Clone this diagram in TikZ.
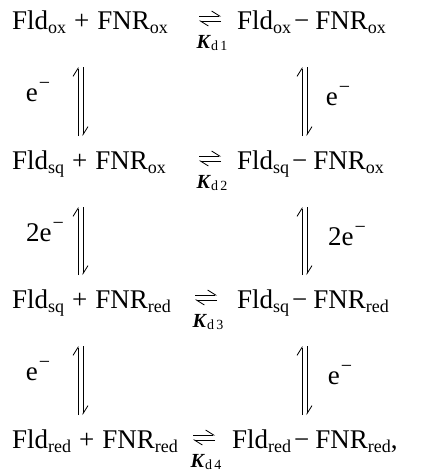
\documentclass[tikz,border=0pt]{standalone}
\usepackage{fontspec}
\setmainfont{Liberation Serif}
\usetikzlibrary{arrows.meta}
\newcommand{\sbs}[1]{\raisebox{-0.35ex}{\fontsize{18}{18}\selectfont #1}}
\newcommand{\ksb}[1]{\raisebox{-0.3ex}{\fontsize{14}{14}\selectfont #1}}
\newcommand{\elec}{e\hspace{1pt}\raisebox{0.9ex}{\fontsize{20}{20}\selectfont \char"2212}}
\newcommand{\mns}{\hspace{3pt}\char"2212\hspace{6pt}}
\newcommand{\pls}{\hspace{8pt}+\hspace{8pt}}
\tikzset{
  expr/.style={anchor=base west, inner sep=0pt, font=\fontsize{27}{27}\selectfont},
  klab/.style={anchor=base, inner sep=0pt, font=\fontsize{20}{20}\selectfont},
  elab/.style={anchor=base, inner sep=0pt, font=\fontsize{27}{27}\selectfont},
  harp/.style={line width=0.8pt, -{Straight Barb[left, length=8pt, width=10pt]}},
}
\begin{document}
\begin{tikzpicture}[x=1pt, y=-1pt]
\useasboundingbox (0,0) rectangle (421,472);
\def\bA{29}\def\bB{169}\def\bC{308}\def\bD{448}
\node[expr] (l1) at (12,\bA) {Fld\sbs{ox}\pls FNR\sbs{ox}};
\node[expr] (r1) at (237,\bA) {Fld\sbs{ox}\mns FNR\sbs{ox}};
\node[expr] (l2) at (12,\bB) {Fld\sbs{sq}\pls FNR\sbs{ox}};
\node[expr] (r2) at (237,\bB) {Fld\sbs{sq}\mns FNR\sbs{ox}};
\node[expr] (l3) at (12,\bC) {Fld\sbs{sq}\pls FNR\sbs{red}};
\node[expr] (r3) at (237,\bC) {Fld\sbs{sq}\mns FNR\sbs{red}};
\node[expr] (l4) at (12,\bD) {Fld\sbs{red}\pls FNR\sbs{red}};
\node[expr] (r4) at (232,\bD) {Fld\sbs{red}\mns FNR\sbs{red},};
% horizontal harpoons
\foreach \n/\b/\xa/\xb in {1/\bA/199/221, 2/\bB/199/221, 3/\bC/195/217, 4/\bD/193/215}{
  \coordinate (h\n a) at (\xa,\b-13);
  \coordinate (h\n b) at (\xb,\b-13);
  \coordinate (h\n c) at (\xb,\b-8);
  \coordinate (h\n d) at (\xa,\b-8);
  \draw[harp] (h\n a) -- (h\n b);
  \draw[harp] (h\n c) -- (h\n d);
}
\node[klab] (k1) at (212,\bA+19) {\textbf{\textit{K}}\ksb{d\,1}};
\node[klab] (k2) at (212,\bB+19) {\textbf{\textit{K}}\ksb{d\,2}};
\node[klab] (k3) at (208,\bC+19) {\textbf{\textit{K}}\ksb{d\,3}};
\node[klab] (k4) at (206,\bD+19) {\textbf{\textit{K}}\ksb{d\,4}};
% vertical harpoons
\foreach \i/\t/\bb in {1/\bA/\bB, 2/\bB/\bC, 3/\bC/\bD}{
  \coordinate (lu\i) at (78,\bb-33);
  \coordinate (lt\i) at (78,\t+38);
  \coordinate (ld\i) at (83,\t+38);
  \coordinate (lb\i) at (83,\bb-33);
  \draw[harp] (lu\i) -- (lt\i);
  \draw[harp] (ld\i) -- (lb\i);
  \coordinate (ru\i) at (302,\bb-33);
  \coordinate (rt\i) at (302,\t+38);
  \coordinate (rd\i) at (307,\t+38);
  \coordinate (rb\i) at (307,\bb-33);
  \draw[harp] (ru\i) -- (rt\i);
  \draw[harp] (rd\i) -- (rb\i);
}
\node[elab] (e1l) at (38,\bA+72) {\elec};
\node[elab] (e1r) at (338,\bA+76) {\elec};
\node[elab] (e2l) at (45,\bB+72) {2\elec};
\node[elab] (e2r) at (347,\bB+76) {2\elec};
\node[elab] (e3l) at (38,\bC+72) {\elec};
\node[elab] (e3r) at (340,\bC+76) {\elec};
\end{tikzpicture}
\end{document}
